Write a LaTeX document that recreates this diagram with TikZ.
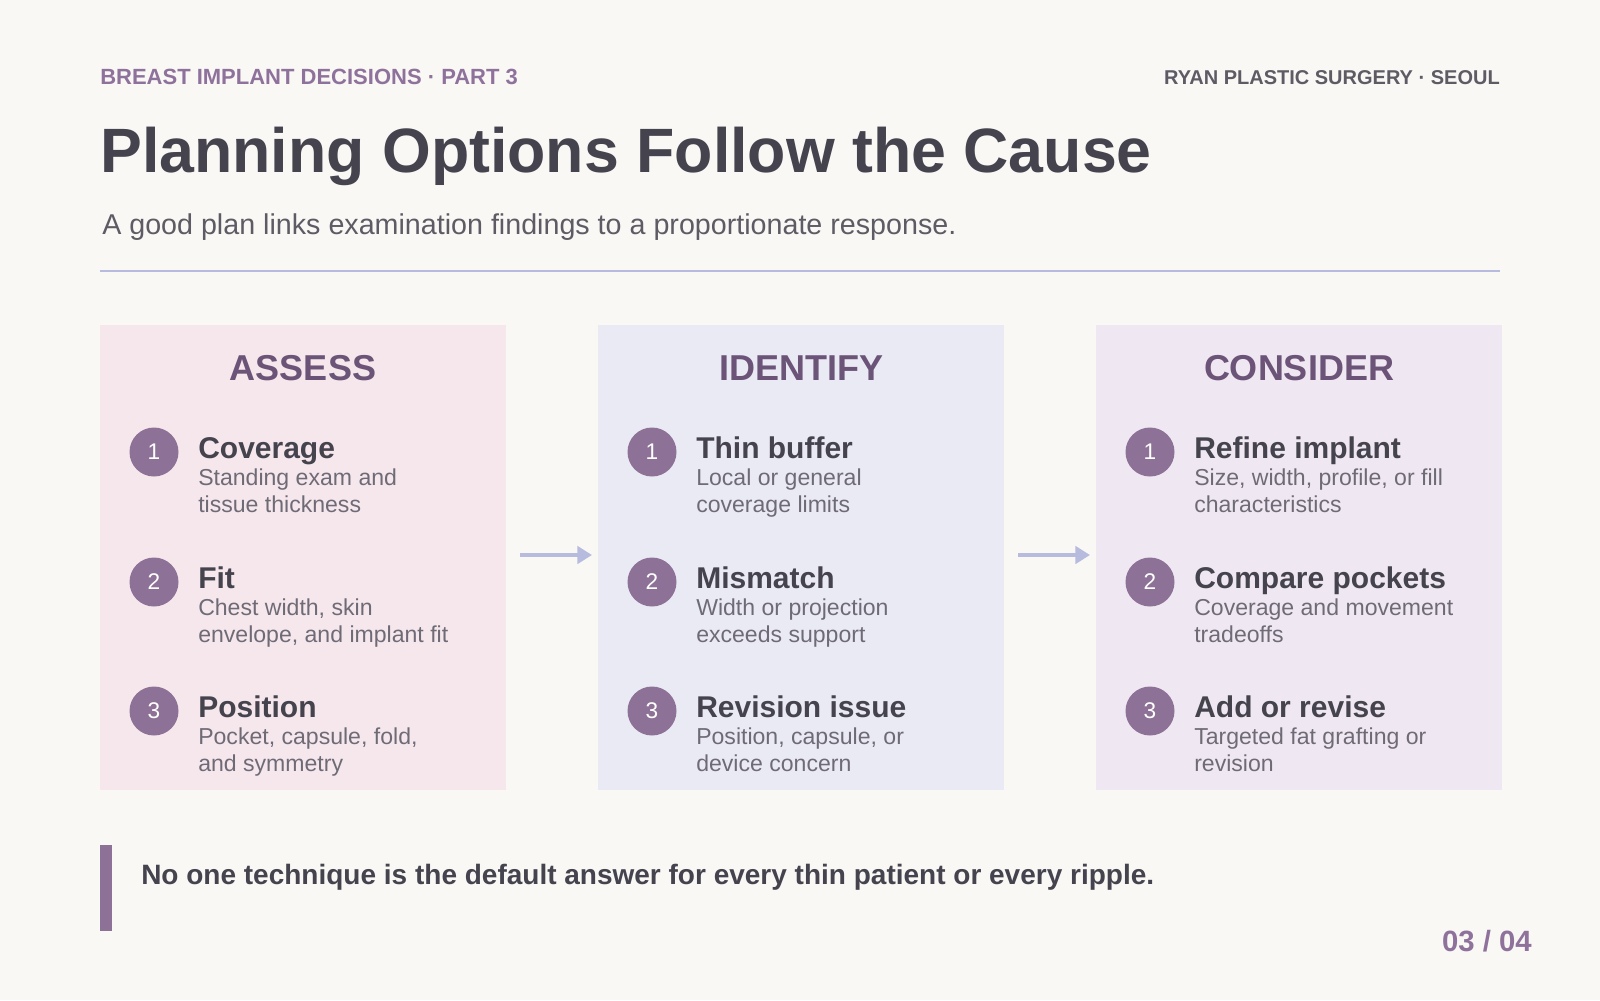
\documentclass[tikz,border=0pt]{standalone}
\usepackage{fontspec}
\setmainfont{Liberation Sans}
\usetikzlibrary{arrows.meta}
\definecolor{bg}{HTML}{F9F8F5}
\definecolor{pA}{HTML}{F5E7EC}
\definecolor{pB}{HTML}{EAEAF5}
\definecolor{pC}{HTML}{EFE8F2}
\definecolor{circ}{HTML}{8E7197}
\definecolor{dark}{HTML}{45434D}
\definecolor{desc}{HTML}{6F6B76}
\definecolor{hpur}{HTML}{8F729C}
\definecolor{ptit}{HTML}{6B5478}
\definecolor{rule}{HTML}{B7BBDE}
\definecolor{hgray}{HTML}{5E5B64}
\newcommand{\fs}[2]{\fontsize{#1pt}{#2pt}\selectfont}
\newcommand{\myitem}[6]{% x, y, name, num, title, desc
 \node[num] (#3) at (#1+54,#2) {#4};
 \node[ititle] (#3t) at (#1+98,#2+6) {#5};
 \node[idesc] (#3d) at (#1+98,#2+17) {#6};}
\begin{document}
\begin{tikzpicture}[x=0.75pt,y=-0.75pt,
 ptitle/.style={anchor=base,font=\fs{27}{32}\bfseries,text=ptit},
 num/.style={circle,fill=circ,minimum size=36.75pt,inner sep=0pt,text=white,font=\fs{17}{20}},
 ititle/.style={anchor=base west,font=\fs{22.5}{27}\bfseries,text=dark,inner sep=0pt},
 idesc/.style={anchor=north west,font=\fs{17.3}{20.25},text=desc,inner sep=0pt,align=left},
 arr/.style={draw=rule,line width=3pt,-{Triangle[length=11pt,width=13pt]}}]
\fill[bg] (0,0) rectangle (1600,1000);
\useasboundingbox (0,0) rectangle (1600,1000);
\node[anchor=base west,inner sep=0pt,font=\fs{16.5}{20}\bfseries,text=hpur] (hl) at (100,84) {BREAST IMPLANT DECISIONS · PART 3};
\node[anchor=base east,inner sep=0pt,font=\fs{15}{18}\bfseries,text=hgray] (hr) at (1500,84) {RYAN PLASTIC SURGERY · SEOUL};
\node[anchor=base west,inner sep=0pt,font=\fs{47}{56}\bfseries,text=dark] (title) at (100,172) {Planning Options Follow the Cause};
\node[anchor=base west,inner sep=0pt,font=\fs{21.5}{26},text=hgray] (sub) at (102,234) {A good plan links examination findings to a proportionate response.};
\draw[rule,line width=1.8pt] (100,271) -- (1500,271);
\foreach \x/\c/\n/\t in {100/pA/a/ASSESS,598/pB/b/IDENTIFY,1096/pC/c/CONSIDER}{
 \fill[\c] (\x,325) rectangle ++(406,465);
 \node[ptitle] (t\n) at (\x+203,380) {\t};
}
\myitem{100}{452}{a1}{1}{Coverage}{Standing exam and\\tissue thickness}
\myitem{100}{582}{a2}{2}{Fit}{Chest width, skin\\envelope, and implant fit}
\myitem{100}{711}{a3}{3}{Position}{Pocket, capsule, fold,\\and symmetry}
\myitem{598}{452}{b1}{1}{Thin buffer}{Local or general\\coverage limits}
\myitem{598}{582}{b2}{2}{Mismatch}{Width or projection\\exceeds support}
\myitem{598}{711}{b3}{3}{Revision issue}{Position, capsule, or\\device concern}
\myitem{1096}{452}{c1}{1}{Refine implant}{Size, width, profile, or fill\\characteristics}
\myitem{1096}{582}{c2}{2}{Compare pockets}{Coverage and movement\\tradeoffs}
\myitem{1096}{711}{c3}{3}{Add or revise}{Targeted fat grafting or\\revision}
\coordinate (a1s) at (520,555); \coordinate (a1e) at (592,555);
\coordinate (a2s) at (1018,555); \coordinate (a2e) at (1090,555);
\draw[arr] (a1s) -- (a1e);
\draw[arr] (a2s) -- (a2e);
\fill[circ] (100,845) rectangle (112,931);
\node[anchor=base west,inner sep=0pt,font=\fs{21}{25}\bfseries,text=dark] (note) at (141,884) {No one technique is the default answer for every thin patient or every ripple.};
\node[anchor=base east,inner sep=0pt,font=\fs{22}{26}\bfseries,text=hpur] (pg) at (1532,951) {03 / 04};
\end{tikzpicture}
\end{document}
